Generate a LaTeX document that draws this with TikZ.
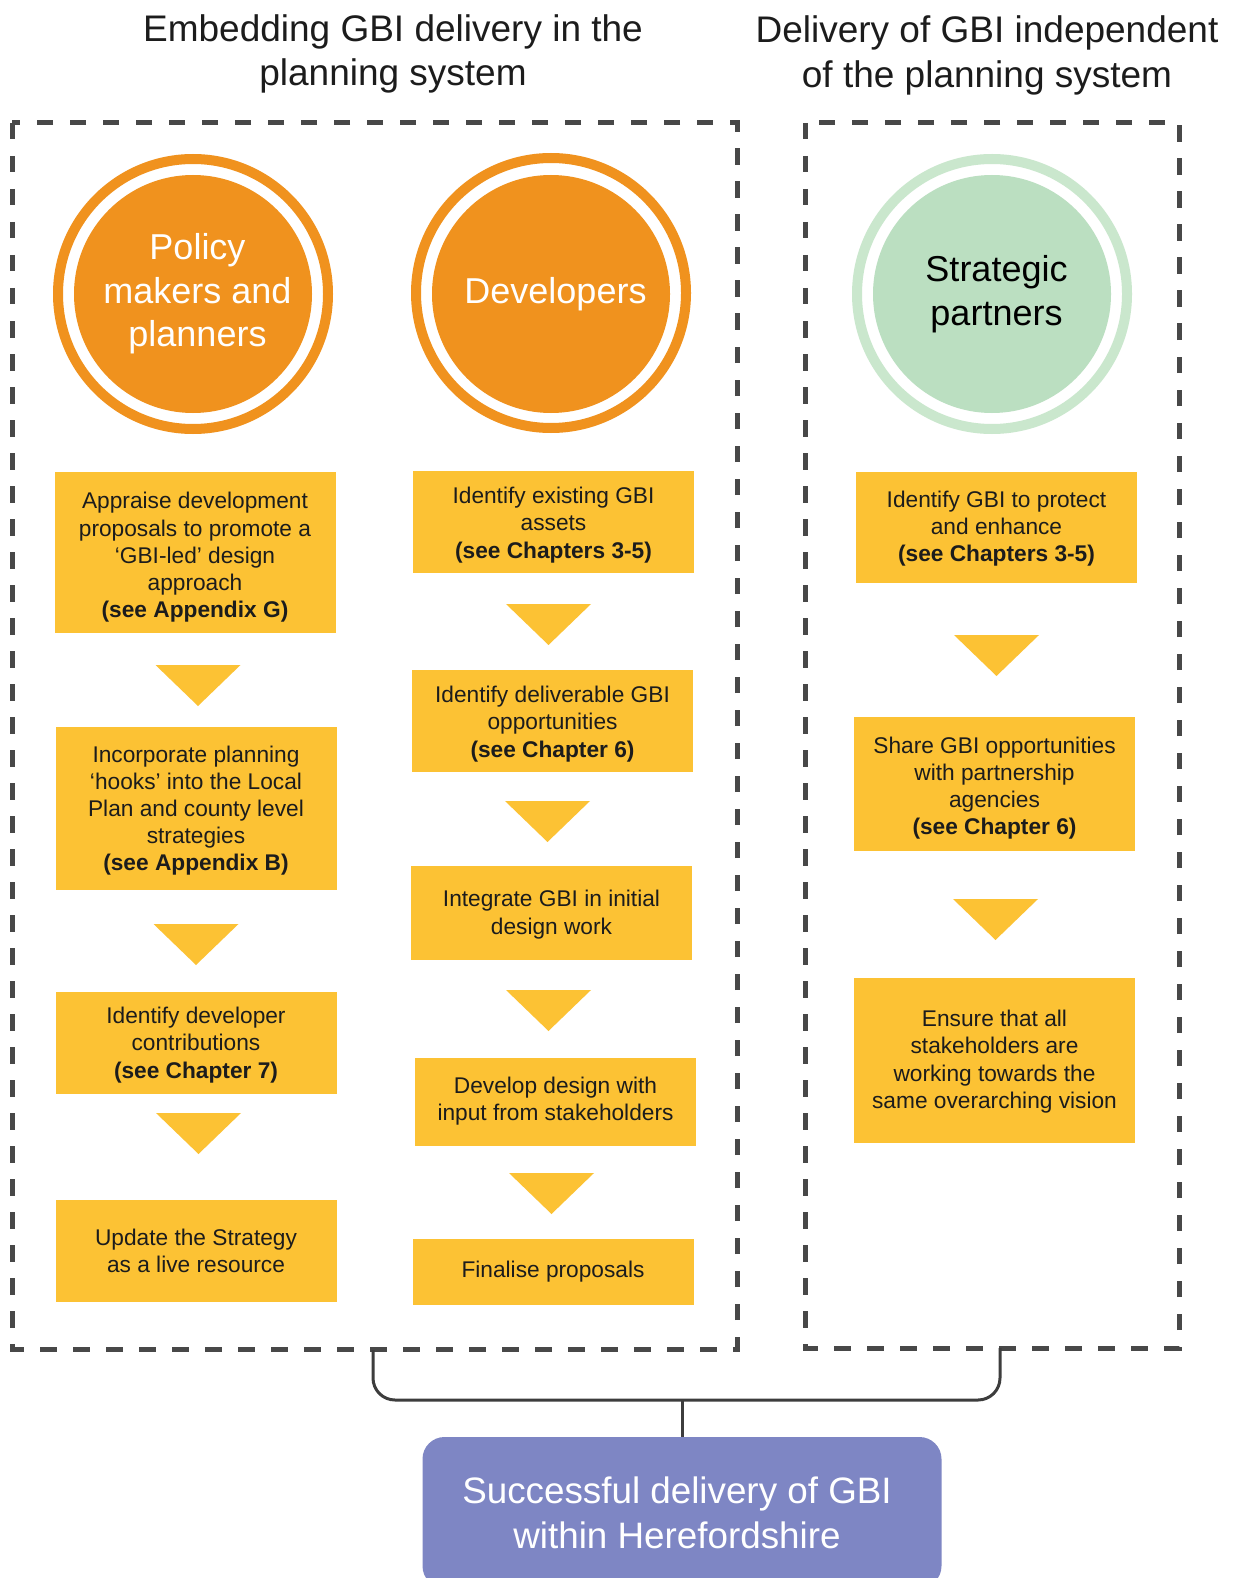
\documentclass[tikz,border=0pt]{standalone}
\usepackage{fontspec}
\setmainfont{Liberation Sans}
\definecolor{gbiorange}{RGB}{240,146,30}
\definecolor{gbigreen}{RGB}{187,223,193}
\definecolor{gbigreenring}{RGB}{202,231,205}
\definecolor{gbiyellow}{RGB}{252,194,52}
\definecolor{gbipurple}{RGB}{126,134,196}
\definecolor{dashgray}{RGB}{72,72,72}
\definecolor{txt}{RGB}{28,28,28}
% downward pointing flow marker, given its top-centre point
\newcommand\gbitri[1]{\fill[gbiyellow] (#1) ++(-42.5,0) -- ++(85,0) -- ++(-42.5,41) -- cycle;}
% small horizontal nudge of a centred line
\newcommand\nudge{\hspace*{9pt}}
% taller first line: moves a box's text block down by #1 pt
\newcommand\gbidown[1]{\rule{0pt}{\dimexpr 16.5pt + #1pt + #1pt\relax}}
\begin{document}
\begin{tikzpicture}[x=1pt,y=-1pt,
  ybox/.style={fill=gbiyellow, inner sep=0pt, minimum width=281pt, align=center,
    text=txt, font=\fontsize{22.7}{27.2}\selectfont},
  frame/.style={draw=dashgray, line width=5pt, dash pattern=on 16.5pt off 16.5pt},
  ring/.style={circle, inner sep=0pt, minimum size=270pt, line width=10pt},
  disc/.style={circle, inner sep=0pt, minimum size=238pt, align=center,
    font=\fontsize{36}{43.5}\selectfont},
  title/.style={align=center, text=txt, font=\fontsize{37}{44.5}\selectfont},
  brace/.style={draw=dashgray!85!black, line width=3pt},
]
\useasboundingbox[fill=white] (0,0) rectangle (1233,1578);

% column headings
\node[title] (tleft) at (393,54) {Embedding GBI delivery in the\\planning system};
\node[title] (tright) at (987,55.5) {Delivery of GBI independent\\of the planning system};

% dashed groupings
\draw[frame] (12,123) rectangle (737,1349);
\draw[frame] (805,123) rectangle (1179,1348);

% actor circles
\node[ring, draw=gbiorange] (pring) at (193,294) {};
\node[disc, fill=gbiorange, text=white] (policy) at (193,294) {\nudge Policy\\\nudge makers and\\\nudge planners};
\node[ring, draw=gbiorange] (dring) at (551,293) {};
\node[disc, fill=gbiorange, text=white] (devs) at (551,294) {\nudge Developers};
\node[ring, draw=gbigreenring] (sring) at (992,294) {};
\node[disc, fill=gbigreen, text=black] (strat) at (992,294) {\nudge Strategic\\\nudge partners};

% policy makers and planners
\node[ybox, minimum height=161pt] (l1) at (195,552.5) {\gbidown{5}Appraise development\\proposals to promote a\\‘GBI-led’ design\\approach\\\textbf{(see Appendix G)}};
\node[ybox, minimum height=163pt] (l2) at (196,808.5) {\gbidown{2}Incorporate planning\\‘hooks’ into the Local\\Plan and county level\\strategies\\\textbf{(see Appendix B)}};
\node[ybox, minimum height=102pt] (l3) at (196,1043) {\gbidown{2}Identify developer\\contributions\\\textbf{(see Chapter 7)}};
\node[ybox, minimum height=102pt] (l4) at (196,1251) {Update the Strategy\\as a live resource};
\gbitri{198,665}
\gbitri{196,924}
\gbitri{198.5,1113}

% developers
\node[ybox, minimum height=102pt] (m1) at (553.5,522) {\gbidown{3}Identify existing GBI\\assets\\\textbf{(see Chapters 3-5)}};
\node[ybox, minimum height=102pt] (m2) at (552.5,721) {\gbidown{3}Identify deliverable GBI\\opportunities\\\textbf{(see Chapter 6)}};
\node[ybox, minimum height=94pt] (m3) at (551.5,913) {\gbidown{1.5}Integrate GBI in initial\\design work};
\node[ybox, minimum height=88pt] (m4) at (555.5,1101.5) {Develop design with\\input from stakeholders};
\node[ybox, minimum height=66pt] (m5) at (553,1272) {Finalise proposals};
\gbitri{548.5,604}
\gbitri{547.5,801}
\gbitri{548.5,990}
\gbitri{551.5,1173}

% strategic partners
\node[ybox, minimum height=111pt] (r1) at (996.5,527.5) {\gbidown{1}Identify GBI to protect\\and enhance\\\textbf{(see Chapters 3-5)}};
\node[ybox, minimum height=134pt] (r2) at (994.5,784) {\gbidown{4}Share GBI opportunities\\with partnership\\agencies\\\textbf{(see Chapter 6)}};
\node[ybox, minimum height=165pt] (r3) at (994.5,1060.5) {\gbidown{1}Ensure that all\\stakeholders are\\working towards the\\same overarching vision};
\gbitri{996.5,635}
\gbitri{995.5,899}

% outcome
\node[fill=gbipurple, rounded corners=22pt, inner sep=0pt, minimum width=519pt,
  minimum height=151pt, align=center, text=white,
  font=\fontsize{36.8}{45}\selectfont] (goal) at (682,1512.5)
  {Successful delivery of GBI\hspace*{10pt}\\within Herefordshire\hspace*{10pt}};

% brace joining both groupings to the outcome
\draw[brace, rounded corners=22pt] (373,1350) -- (373,1400) -- (1000,1400) -- (1000,1348);
\coordinate (bmid) at (682,1400);
\draw[brace] (bmid) -- (goal.north);
\end{tikzpicture}
\end{document}
